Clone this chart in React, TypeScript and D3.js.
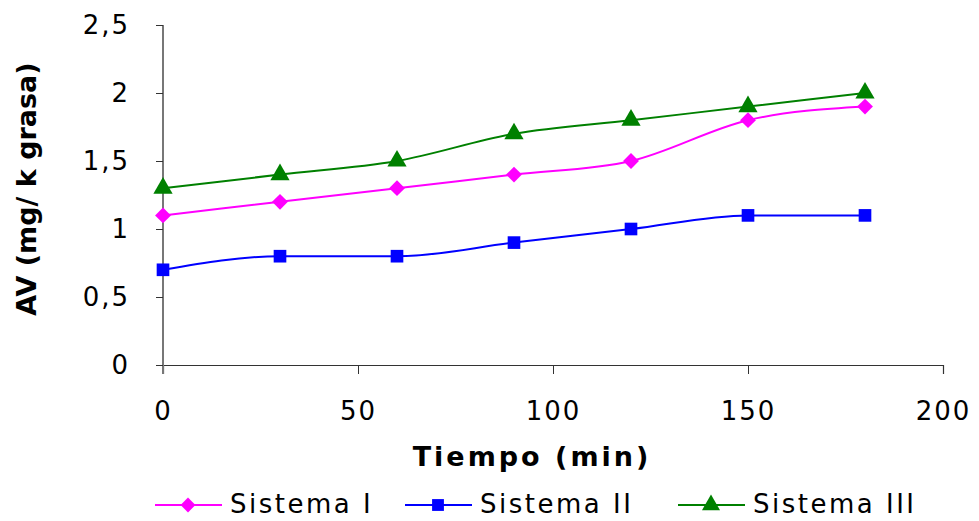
import React, { useEffect, useRef } from 'react';
import * as d3 from 'd3';

const tiempo = [0, 30, 60, 90, 120, 150, 180];
const sistemaI = [1.1, 1.2, 1.3, 1.4, 1.5, 1.8, 1.9];
const sistemaII = [0.7, 0.8, 0.8, 0.9, 1.0, 1.1, 1.1];
const sistemaIII = [1.3, 1.4, 1.5, 1.7, 1.8, 1.9, 2.0];
const xTicks = [0, 50, 100, 150, 200];
const yTicks = [0, 0.5, 1, 1.5, 2, 2.5];

const series = [
  { name: 'Sistema I', values: sistemaI, color: '#ff00ff', symbol: d3.symbolDiamond2 },
  { name: 'Sistema II', values: sistemaII, color: '#0000ff', symbol: d3.symbolSquare },
  { name: 'Sistema III', values: sistemaIII, color: '#008000', symbol: d3.symbolTriangle },
];

const App = () => {
  const ref = useRef<SVGSVGElement>(null);

  useEffect(() => {
    const width = 979, height = 521;
    const margin = { top: 25, right: 36, bottom: 156, left: 163 };
    const innerW = width - margin.left - margin.right;
    const innerH = height - margin.top - margin.bottom;
    const font = '"DejaVu Sans", Verdana, sans-serif';

    const svg = d3.select(ref.current).attr('width', width).attr('height', height);
    svg.selectAll('*').remove();
    const g = svg.append('g').attr('transform', `translate(${margin.left},${margin.top})`);

    const x = d3.scaleLinear().domain([0, 200]).range([0, innerW]);
    const y = d3.scaleLinear().domain([0, 2.5]).range([innerH, 0]);
    const fmt = (d: number) => String(d).replace('.', ',');

    const xAxis = g.append('g').attr('transform', `translate(0,${innerH})`)
      .call(d3.axisBottom(x).tickValues(xTicks).tickSize(9).tickPadding(28).tickFormat(d => fmt(+d)));
    const yAxis = g.append('g')
      .call(d3.axisLeft(y).tickValues(yTicks).tickSize(7).tickPadding(26).tickFormat(d => fmt(+d)));
    [xAxis, yAxis].forEach(a => {
      a.selectAll('text').attr('font-family', font).attr('font-size', 26)
        .attr('letter-spacing', 2).attr('fill', '#000');
      a.selectAll('.tick line').attr('stroke', '#333');
    });
    xAxis.select('.domain').attr('stroke', '#333').attr('stroke-width', 1.2);
    yAxis.select('.domain').attr('stroke', '#777').attr('stroke-width', 2)
      .attr('d', `M0,0V${innerH + 9}`);

    const line = d3.line<number>()
      .x((_, i) => x(tiempo[i]))
      .y(d => y(d))
      .curve(d3.curveMonotoneX);

    series.forEach(s => {
      g.append('path').datum(s.values).attr('d', line).attr('fill', 'none')
        .attr('stroke', s.color).attr('stroke-width', 2);
      g.selectAll(null).data(s.values).join('path')
        .attr('transform', (d, i) => `translate(${x(tiempo[i])},${y(d)})`)
        .attr('d', d3.symbol(s.symbol, 160))
        .attr('fill', s.color);
    });

    svg.append('text').attr('x', 532).attr('y', 466)
      .attr('text-anchor', 'middle').attr('font-family', font).attr('font-weight', 'bold')
      .attr('font-size', 27).attr('letter-spacing', 3).text('Tiempo (min)');
    svg.append('text').attr('transform', `translate(36,189) rotate(-90)`)
      .attr('text-anchor', 'middle').attr('font-family', font).attr('font-weight', 'bold')
      .attr('font-size', 27).text('AV (mg/ k grasa)');

    const legendX = [155, 405, 678];
    series.forEach((s, i) => {
      const lg = svg.append('g').attr('transform', `translate(${legendX[i]},505)`);
      lg.append('line').attr('x1', 0).attr('x2', 67).attr('stroke', s.color).attr('stroke-width', 2);
      lg.append('path').attr('transform', 'translate(33,0)').attr('d', d3.symbol(s.symbol, 140)).attr('fill', s.color);
      lg.append('text').attr('x', 75).attr('y', 8).attr('font-family', font).attr('font-size', 26)
        .attr('letter-spacing', 2.5).attr('fill', '#000').text(s.name);
    });
  }, []);

  return (
    <svg ref={ref} style={{ position: 'absolute', left: 0, top: 0 }}></svg>
  );
};

export default App;
